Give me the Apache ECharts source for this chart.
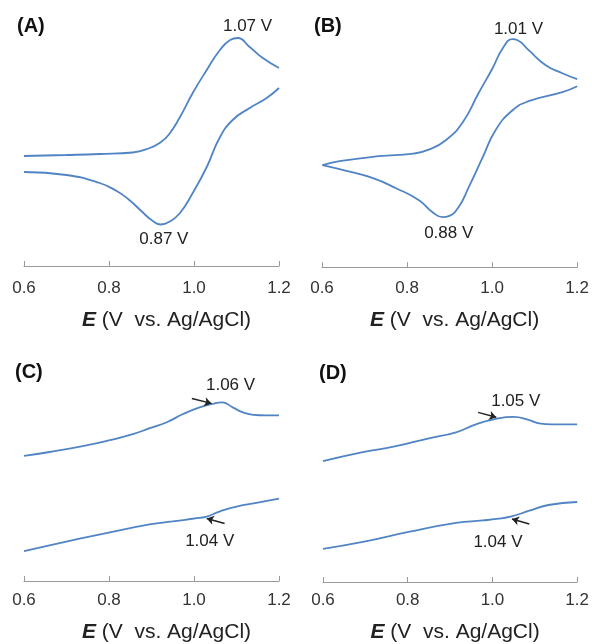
<!DOCTYPE html>
<html>
<head>
<meta charset="utf-8">
<script src="https://cdn.jsdelivr.net/npm/echarts@6/dist/echarts.min.js"></script>
<style>
  html, body { margin: 0; padding: 0; background: #fff; }
  #main { width: 592px; height: 644px; }
</style>
</head>
<body>
<div id="main"></div>
<script>
// x axis ticks (V vs. Ag/AgCl)
const xTicks = [0.6, 0.8, 1.0, 1.2];

// (A) forward / reverse scan, current in arbitrary units
const eFwdA = [0.600, 0.700, 0.778, 0.856, 0.896, 0.919, 0.940, 0.967, 0.997, 1.030, 1.061, 1.085, 1.103, 1.131, 1.162, 1.200];
const iFwdA = [11.0, 11.1, 11.2, 11.35, 11.8, 12.3, 13.1, 14.9, 17.3, 19.6, 21.6, 22.6, 22.8, 21.9, 20.8, 19.8];
const eRevA = [1.200, 1.171, 1.131, 1.091, 1.060, 1.030, 0.997, 0.967, 0.943, 0.922, 0.900, 0.876, 0.845, 0.818, 0.778, 0.700, 0.600];
const iRevA = [17.8, 16.8, 15.8, 14.6, 12.8, 9.9, 7.3, 5.3, 4.45, 4.15, 4.6, 5.5, 6.7, 7.5, 8.3, 9.1, 9.4];

// (B)
const eFwdB = [0.601, 0.641, 0.734, 0.814, 0.851, 0.891, 0.931, 0.968, 1.001, 1.025, 1.048, 1.060, 1.086, 1.126, 1.165, 1.200];
const iFwdB = [10.2, 10.6, 11.1, 11.35, 11.75, 12.7, 14.5, 17.4, 19.9, 21.9, 22.8, 22.7, 21.7, 20.2, 19.4, 18.8];
const eRevB = [1.200, 1.165, 1.086, 1.048, 1.008, 0.978, 0.945, 0.921, 0.898, 0.884, 0.860, 0.828, 0.774, 0.720, 0.660, 0.601];
const iRevB = [18.1, 17.5, 16.6, 15.7, 13.7, 11.0, 8.0, 6.0, 5.1, 5.0, 5.5, 6.7, 7.9, 8.9, 9.6, 10.2];

// (C)
const eUpC = [0.600, 0.660, 0.738, 0.802, 0.856, 0.896, 0.936, 0.973, 1.013, 1.044, 1.066, 1.091, 1.115, 1.140, 1.170, 1.200];
const iUpC = [12.6, 13.0, 13.6, 14.2, 14.8, 15.4, 16.0, 16.8, 17.5, 17.85, 18.0, 17.5, 17.0, 16.75, 16.7, 16.7];
const eLoC = [1.200, 1.150, 1.100, 1.060, 1.030, 1.000, 0.950, 0.896, 0.802, 0.660, 0.600];
const iLoC = [8.3, 7.9, 7.5, 7.0, 6.5, 6.3, 6.0, 5.7, 4.9, 3.6, 3.0];

// (D)
const eUpD = [0.600, 0.694, 0.772, 0.850, 0.914, 0.961, 1.008, 1.050, 1.085, 1.110, 1.140, 1.200];
const iUpD = [12.3, 13.2, 13.8, 14.6, 15.2, 16.0, 16.55, 16.75, 16.45, 16.1, 16.0, 16.0];
const eLoD = [1.200, 1.132, 1.085, 1.045, 1.010, 0.977, 0.914, 0.802, 0.694, 0.600];
const iLoD = [8.2, 7.9, 7.3, 6.75, 6.5, 6.35, 6.1, 5.2, 4.2, 3.5];

// peak labels [E, I, text] and arrows [E0, I0, E1, I1]
const labelsA = [[1.126, 24.0, '1.07 V'], [0.929, 2.7, '0.87 V']];
const labelsB = [[1.062, 23.8, '1.01 V'], [0.898, 3.4, '0.88 V']];
const labelsC = [[1.086, 19.7, '1.06 V'], [1.037, 4.0, '1.04 V']];
const labelsD = [[1.055, 18.3, '1.05 V'], [1.013, 4.2, '1.04 V']];
const arrowsC = [[0.995, 18.4, 1.041, 17.9], [1.072, 5.8, 1.030, 6.3]];
const arrowsD = [[0.966, 17.2, 1.009, 16.7], [1.087, 6.0, 1.046, 6.5]];

const panelNames = ['(A)', '(B)', '(C)', '(D)'];

const FONT = 'Liberation Sans, Arial, sans-serif';
const BLUE = '#5084c4';

const pts = (xs, ys) => xs.map((x, i) => [x, ys[i]]);

const chart = echarts.init(document.getElementById('main'));

// layout of the four panels
const grids = [
  { left: 24, top: 10, width: 255, height: 260 },
  { left: 322, top: 9.5, width: 256, height: 260 },
  { left: 24, top: 324, width: 255, height: 260 },
  { left: 323, top: 323, width: 255, height: 260 }
];
const yMins = [-0.4, -0.23, -0.1, 0.17];
const titlePos = [[17, 16], [314, 16], [15, 362], [319, 363]];
const nameShift = [30, 10, 30, 10];

const curves = [
  [pts(eFwdA, iFwdA), pts(eRevA, iRevA)],
  [pts(eFwdB, iFwdB), pts(eRevB, iRevB)],
  [pts(eUpC, iUpC), pts(eLoC, iLoC)],
  [pts(eUpD, iUpD), pts(eLoD, iLoD)]
];
const labels = [labelsA, labelsB, labelsC, labelsD];
const arrows = [[], [], arrowsC, arrowsD];

const xAxis = grids.map((g, k) => ({
  gridIndex: k,
  type: 'value',
  min: xTicks[0],
  max: xTicks[xTicks.length - 1],
  interval: 0.2,
  axisLine: { lineStyle: { color: '#9a9a9a', width: 1 } },
  axisTick: { inside: true, length: 5, lineStyle: { color: '#9a9a9a' } },
  splitLine: { show: false },
  axisLabel: {
    margin: 10,
    fontSize: 17,
    color: '#333',
    fontFamily: FONT,
    formatter: v => v.toFixed(1)
  },
  name: '{e|E} (V  vs. Ag/AgCl)',
  nameLocation: 'middle',
  nameGap: 40,
  nameTextStyle: {
    fontSize: 21,
    color: '#222',
    fontFamily: FONT,
    padding: [0, 0, 0, nameShift[k]],
    rich: {
      e: { fontSize: 21, fontWeight: 'bold', fontStyle: 'italic', color: '#222', fontFamily: FONT }
    }
  }
}));

const yAxis = grids.map((g, k) => ({
  gridIndex: k,
  type: 'value',
  min: yMins[k],
  max: yMins[k] + 26,
  show: false
}));

const series = [];
curves.forEach((pair, k) => {
  pair.forEach((data, j) => {
    const s = {
      type: 'line',
      xAxisIndex: k,
      yAxisIndex: k,
      data: data,
      smooth: 0.5,
      showSymbol: false,
      lineStyle: { color: BLUE, width: 1.8 }
    };
    if (j === 0) {
      s.markPoint = {
        symbol: 'circle',
        symbolSize: 1,
        itemStyle: { color: 'rgba(0,0,0,0)' },
        label: { show: true, position: 'inside', formatter: '{b}', fontSize: 17, color: '#222', fontFamily: FONT },
        data: labels[k].map(l => ({ name: l[2], coord: [l[0], l[1]] }))
      };
      if (arrows[k].length) {
        s.markLine = {
          silent: true,
          symbol: ['none', 'arrow'],
          symbolSize: 7,
          label: { show: false },
          lineStyle: { color: '#222', width: 1.5, type: 'solid' },
          data: arrows[k].map(a => [{ coord: [a[0], a[1]] }, { coord: [a[2], a[3]] }])
        };
      }
    }
    series.push(s);
  });
});

const option = {
  animation: false,
  textStyle: { fontFamily: FONT },
  title: panelNames.map((t, k) => ({
    text: t,
    left: titlePos[k][0],
    top: titlePos[k][1],
    padding: 0,
    textStyle: { fontSize: 20, fontWeight: 'bold', color: '#111', fontFamily: FONT }
  })),
  grid: grids,
  xAxis: xAxis,
  yAxis: yAxis,
  series: series
};

chart.setOption(option);
</script>
</body>
</html>
